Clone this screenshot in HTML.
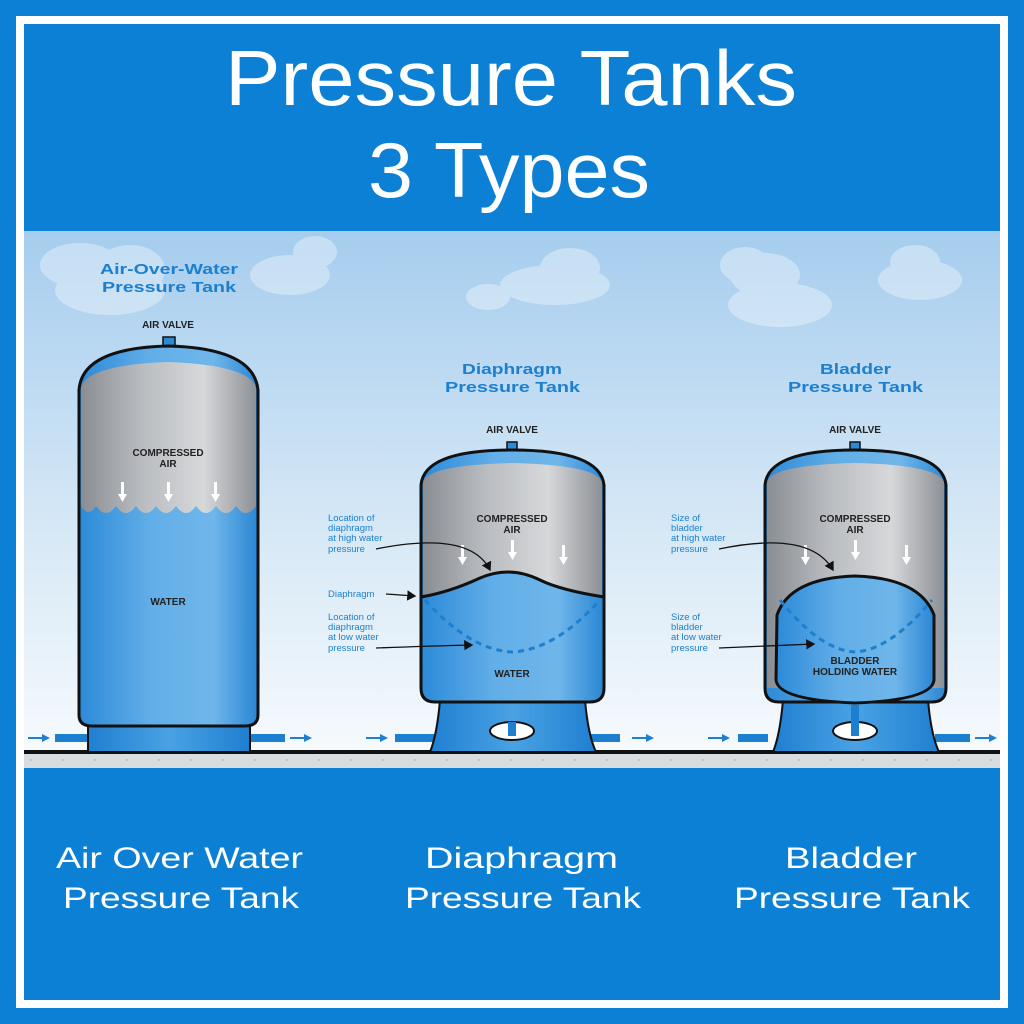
<!DOCTYPE html>
<html><head><meta charset="utf-8"><style>
html,body{margin:0;padding:0;background:#0b80d5;}
svg{display:block;}
</style></head><body>
<svg width="1024" height="1024" viewBox="0 0 1024 1024" xmlns="http://www.w3.org/2000/svg" font-family="Liberation Sans, sans-serif">
<defs>
<linearGradient id="sky" x1="0" y1="0" x2="0" y2="1">
<stop offset="0" stop-color="#a6cdee"/><stop offset="0.55" stop-color="#d6e8f6"/><stop offset="1" stop-color="#f8fbfd"/>
</linearGradient>
<linearGradient id="metal" x1="0" y1="0" x2="1" y2="0">
<stop offset="0" stop-color="#8a8d92"/><stop offset="0.35" stop-color="#b9bcc0"/><stop offset="0.7" stop-color="#d6d8da"/><stop offset="1" stop-color="#8d9095"/>
</linearGradient>
<linearGradient id="water" x1="0" y1="0" x2="1" y2="0">
<stop offset="0" stop-color="#2c8ad8"/><stop offset="0.4" stop-color="#62aee8"/><stop offset="0.75" stop-color="#6fb6ea"/><stop offset="1" stop-color="#2a86d4"/>
</linearGradient>
<linearGradient id="base" x1="0" y1="0" x2="1" y2="0">
<stop offset="0" stop-color="#1f7fd0"/><stop offset="0.5" stop-color="#4aa2e4"/><stop offset="1" stop-color="#1f7fd0"/>
</linearGradient>
<marker id="ah" markerWidth="8" markerHeight="8" refX="6" refY="4" orient="auto"><path d="M0,0 L7,4 L0,8 Z" fill="#111"/></marker>
</defs>
<rect width="1024" height="1024" fill="#0b80d5"/>
<rect x="20" y="20" width="984" height="984" fill="none" stroke="#fff" stroke-width="8"/>
<text x="225" y="105" fill="#fff" font-size="78" textLength="572" lengthAdjust="spacingAndGlyphs">Pressure Tanks</text>
<text x="368" y="197" fill="#fff" font-size="78" textLength="282" lengthAdjust="spacingAndGlyphs">3 Types</text>

<rect x="24" y="231" width="976" height="537" fill="url(#sky)"/>
<g fill="#fff" opacity="0.35">
<ellipse cx="80" cy="265" rx="40" ry="22"/><ellipse cx="110" cy="290" rx="55" ry="25"/><ellipse cx="130" cy="270" rx="35" ry="25"/>
<ellipse cx="290" cy="275" rx="40" ry="20"/><ellipse cx="315" cy="252" rx="22" ry="16"/>
<ellipse cx="555" cy="285" rx="55" ry="20"/><ellipse cx="570" cy="268" rx="30" ry="20"/><ellipse cx="488" cy="297" rx="22" ry="13"/>
<ellipse cx="780" cy="305" rx="52" ry="22"/><ellipse cx="765" cy="275" rx="35" ry="22"/><ellipse cx="745" cy="265" rx="25" ry="18"/>
<ellipse cx="920" cy="280" rx="42" ry="20"/><ellipse cx="915" cy="262" rx="25" ry="17"/>
</g>
<g fill="#1c7fcf" font-weight="bold" font-size="15" lengthAdjust="spacingAndGlyphs">
<text x="100" y="274" textLength="138" lengthAdjust="spacingAndGlyphs">Air-Over-Water</text><text x="102" y="292" textLength="134" lengthAdjust="spacingAndGlyphs">Pressure Tank</text>
<text x="462" y="374" textLength="100" lengthAdjust="spacingAndGlyphs">Diaphragm</text><text x="445" y="392" textLength="135" lengthAdjust="spacingAndGlyphs">Pressure Tank</text>
<text x="820" y="374" textLength="71" lengthAdjust="spacingAndGlyphs">Bladder</text><text x="788" y="392" textLength="135" lengthAdjust="spacingAndGlyphs">Pressure Tank</text>
</g>
<g font-weight="bold" font-size="10" text-anchor="middle" fill="#222">
<text x="168" y="328">AIR VALVE</text><text x="512" y="433">AIR VALVE</text><text x="855" y="433">AIR VALVE</text>
</g>

<rect x="24" y="752" width="976" height="16" fill="#d9dde2"/>
<rect x="24" y="750" width="976" height="4" fill="#111"/>
<g stroke="#9aa" stroke-width="1" stroke-dasharray="2 30"><line x1="30" y1="760" x2="1000" y2="760"/></g>

<g fill="#1c7fcf">
<rect x="55" y="734" width="35" height="8"/><rect x="250" y="734" width="35" height="8"/>
<rect x="395" y="734" width="40" height="8"/><rect x="590" y="734" width="30" height="8"/>
<rect x="738" y="734" width="30" height="8"/><rect x="935" y="734" width="35" height="8"/>
<path d="M28,737h14v-3l8,4l-8,4v-3h-14z"/><path d="M290,737h14v-3l8,4l-8,4v-3h-14z"/>
<path d="M366,737h14v-3l8,4l-8,4v-3h-14z"/><path d="M632,737h14v-3l8,4l-8,4v-3h-14z"/>
<path d="M708,737h14v-3l8,4l-8,4v-3h-14z"/><path d="M975,737h14v-3l8,4l-8,4v-3h-14z"/>
</g>

<!-- LEFT TANK -->
<rect x="88" y="718" width="162" height="34" fill="url(#base)" stroke="#111" stroke-width="2"/>
<rect x="163" y="337" width="12" height="12" fill="#2a8ad6" stroke="#111" stroke-width="1.5"/>
<path d="M79,390 Q82,348 168,346 Q254,348 258,390 L258,715 Q258,726 245,726 L92,726 Q79,726 79,715 Z" fill="url(#water)" stroke="#111" stroke-width="3"/>
<path d="M81,388 Q86,365 168,362 Q250,365 256,388 L256,506 Q246,520 236,506 Q226,520 216,506 Q206,520 196,506 Q186,520 176,506 Q166,520 156,506 Q146,520 136,506 Q126,520 116,506 Q106,520 96,506 Q88,518 81,506 Z" fill="url(#metal)"/>
<g fill="#fff"><path d="M121,482h3v12h3l-4.5,8l-4.5,-8h3z"/><path d="M167,482h3v12h3l-4.5,8l-4.5,-8h3z"/><path d="M214,482h3v12h3l-4.5,8l-4.5,-8h3z"/></g>
<g font-weight="bold" font-size="10" text-anchor="middle" fill="#222">
<text x="168" y="456">COMPRESSED</text><text x="168" y="467">AIR</text><text x="168" y="605">WATER</text>
</g>

<!-- MIDDLE TANK -->
<path d="M440,700 L585,700 Q588,735 596,752 L430,752 Q437,735 440,700 Z" fill="url(#base)" stroke="#111" stroke-width="2"/>
<ellipse cx="512" cy="731" rx="22" ry="9" fill="#fff" stroke="#111" stroke-width="2"/><rect x="508" y="722" width="8" height="14" fill="#1c7fcf"/>
<rect x="507" y="442" width="10" height="10" fill="#2a8ad6" stroke="#111" stroke-width="1.5"/>
<path d="M421,485 Q424,450 512,450 Q600,450 604,485 L604,688 Q604,702 590,702 L435,702 Q421,702 421,688 Z" fill="url(#water)" stroke="#111" stroke-width="3"/>
<path d="M423,482 Q428,465 512,463 Q596,465 602,482 L602,597 Q560,590 540,580 Q510,565 480,578 Q450,592 423,597 Z" fill="url(#metal)"/>
<path d="M421,597 Q450,592 480,578 Q510,565 540,580 Q560,590 604,597" fill="none" stroke="#111" stroke-width="3"/>
<path d="M425,600 Q470,650 512,652 Q555,650 600,600" fill="none" stroke="#1c7fcf" stroke-width="3" stroke-dasharray="6 5"/>
<g fill="#fff"><path d="M461,545h3v12h3l-4.5,8l-4.5,-8h3z"/><path d="M511,540h3v12h3l-4.5,8l-4.5,-8h3z"/><path d="M562,545h3v12h3l-4.5,8l-4.5,-8h3z"/></g>
<g font-weight="bold" font-size="10" text-anchor="middle" fill="#222">
<text x="512" y="522">COMPRESSED</text><text x="512" y="533">AIR</text><text x="512" y="677">WATER</text>
</g>
<g font-size="9.5" fill="#1c7fcf">
<text x="328" y="521">Location of</text><text x="328" y="531">diaphragm</text><text x="328" y="541">at high water</text><text x="328" y="552">pressure</text>
<text x="328" y="597">Diaphragm</text>
<text x="328" y="620">Location of</text><text x="328" y="630">diaphragm</text><text x="328" y="640">at low water</text><text x="328" y="651">pressure</text>
</g>
<g fill="none" stroke="#111" stroke-width="1.3" marker-end="url(#ah)">
<path d="M376,549 Q470,530 490,570"/><path d="M386,594 L415,596"/><path d="M376,648 Q430,646 472,645"/>
</g>

<!-- RIGHT TANK -->
<path d="M783,700 L928,700 Q931,735 939,752 L773,752 Q780,735 783,700 Z" fill="url(#base)" stroke="#111" stroke-width="2"/>
<ellipse cx="855" cy="731" rx="22" ry="9" fill="#fff" stroke="#111" stroke-width="2"/><rect x="851" y="705" width="8" height="31" fill="#1c7fcf"/>
<rect x="850" y="442" width="10" height="10" fill="#2a8ad6" stroke="#111" stroke-width="1.5"/>
<path d="M765,485 Q768,450 855,450 Q942,450 946,485 L946,688 Q946,702 932,702 L779,702 Q765,702 765,688 Z" fill="url(#water)" stroke="#111" stroke-width="3"/>
<path d="M767,482 Q772,465 855,463 Q938,465 944,482 L944,688 L767,688 Z" fill="url(#metal)"/>
<path d="M777,615 Q790,578 855,576 Q920,578 934,615 L934,680 Q932,700 855,703 Q778,700 776,680 Z" fill="url(#water)" stroke="#111" stroke-width="3"/>
<path d="M780,600 Q820,650 855,652 Q890,650 932,600" fill="none" stroke="#1c7fcf" stroke-width="3" stroke-dasharray="6 5"/>
<g fill="#fff"><path d="M804,545h3v12h3l-4.5,8l-4.5,-8h3z"/><path d="M854,540h3v12h3l-4.5,8l-4.5,-8h3z"/><path d="M905,545h3v12h3l-4.5,8l-4.5,-8h3z"/></g>
<g font-weight="bold" font-size="10" text-anchor="middle" fill="#222">
<text x="855" y="522">COMPRESSED</text><text x="855" y="533">AIR</text>
<text x="855" y="664">BLADDER</text><text x="855" y="675">HOLDING WATER</text>
</g>
<g font-size="9.5" fill="#1c7fcf">
<text x="671" y="521">Size of</text><text x="671" y="531">bladder</text><text x="671" y="541">at high water</text><text x="671" y="552">pressure</text>
<text x="671" y="620">Size of</text><text x="671" y="630">bladder</text><text x="671" y="640">at low water</text><text x="671" y="651">pressure</text>
</g>
<g fill="none" stroke="#111" stroke-width="1.3" marker-end="url(#ah)">
<path d="M719,549 Q810,530 833,570"/><path d="M719,648 Q770,646 814,644"/>
</g>

<g fill="#fff" font-size="30">
<text x="56" y="868" textLength="247" lengthAdjust="spacingAndGlyphs">Air Over Water</text>
<text x="63" y="908" textLength="236" lengthAdjust="spacingAndGlyphs">Pressure Tank</text>
<text x="425" y="868" textLength="193" lengthAdjust="spacingAndGlyphs">Diaphragm</text>
<text x="405" y="908" textLength="236" lengthAdjust="spacingAndGlyphs">Pressure Tank</text>
<text x="785" y="868" textLength="132" lengthAdjust="spacingAndGlyphs">Bladder</text>
<text x="734" y="908" textLength="236" lengthAdjust="spacingAndGlyphs">Pressure Tank</text>
</g>
</svg>
</body></html>
